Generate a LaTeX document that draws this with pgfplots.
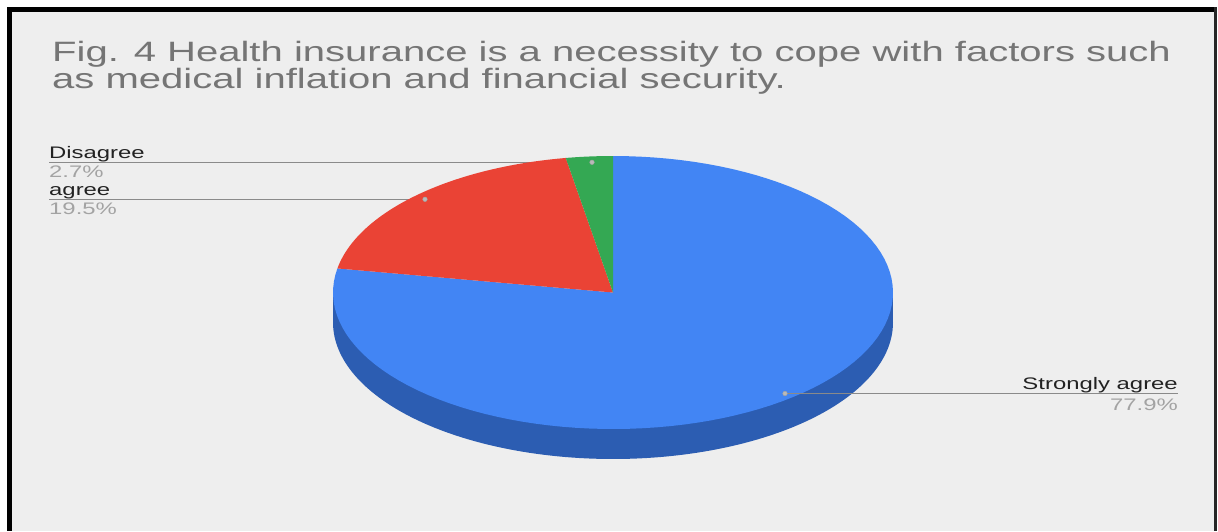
\documentclass[border=0pt]{standalone}
\usepackage{pgfplots}
\pgfplotsset{compat=1.18}
\usepackage{pgfplotstable}
\usepackage{fontspec}
\setmainfont[FakeStretch=1.43]{Liberation Sans}
\definecolor{bg}{HTML}{EEEEEE}
\definecolor{gblue}{HTML}{4285F4}
\definecolor{gbluedark}{HTML}{2C5DB2}
\definecolor{gred}{HTML}{EA4335}
\definecolor{ggreen}{HTML}{34A853}
\definecolor{titlegray}{HTML}{757575}
\definecolor{pctgray}{HTML}{A3A3A3}
\definecolor{labelink}{HTML}{222222}
\definecolor{leader}{HTML}{8A8A8A}

\pgfplotstableread{
label value
Strongly 77.9
agree 19.5
Disagree 2.7
}\piedata

\pgfplotstablegetelem{0}{value}\of\piedata \let\vA\pgfplotsretval
\pgfplotstablegetelem{1}{value}\of\piedata \let\vB\pgfplotsretval
\pgfplotstablegetelem{2}{value}\of\piedata \let\vC\pgfplotsretval
\pgfmathsetmacro\tot{\vA+\vB+\vC}
\pgfmathsetmacro\aA{90-(\vA/\tot)*360}
\pgfmathsetmacro\aB{\aA-(\vB/\tot)*360}
\pgfmathsetmacro\aC{\aB-(\vC/\tot)*360}

\def\pcx{613}\def\pcy{292.5}\def\prx{280}\def\pry{136.5}\def\pdep{30}

\newcommand\slice[3]{%
\addplot[fill=#1, draw=none, domain=0:101, samples=102, variable=\t]
 ({ifthenelse(\t<100.5, \pcx+\prx*cos(#2+(#3-#2)*\t/100), \pcx)},
  {ifthenelse(\t<100.5, \pcy-\pry*sin(#2+(#3-#2)*\t/100), \pcy)});
}

\begin{document}
\begin{tikzpicture}
\begin{axis}[width=1218pt,height=531pt,scale only axis,
  xmin=0,xmax=1218,ymin=0,ymax=531,y dir=reverse,
  hide axis, clip=false]
% background and frame
\fill[white] (axis cs:0,0) rectangle (axis cs:1218,531);
\fill[bg] (axis cs:12,12) rectangle (axis cs:1214,531);
\fill[black] (axis cs:7,6.5) rectangle (axis cs:1216.5,12);
\fill[black] (axis cs:7,6.5) rectangle (axis cs:12,531);
\fill[black!85] (axis cs:1214,6.5) rectangle (axis cs:1216.5,531);
% title
\node[anchor=base west, text=titlegray, font=\fontsize{28}{33}\selectfont, inner sep=0pt]
  at (axis cs:52,61) {Fig. 4 Health insurance is a necessity to cope with factors such};
\node[anchor=base west, text=titlegray, font=\fontsize{28}{33}\selectfont, inner sep=0pt]
  at (axis cs:52,88) {as medical inflation and financial security.};
% leader lines (left, under pie)
\addplot[leader, line width=1.3pt, no markers] coordinates {(49,162.3) (592,162.3)};
\addplot[leader, line width=1.3pt, no markers] coordinates {(49,199.3) (425,199.3)};
% side of the pie
\addplot[fill=gbluedark, draw=none, domain=180:360, samples=120]
  ({\pcx+\prx*cos(x)}, {\pcy+\pdep-\pry*sin(x)});
\addplot[fill=gbluedark, draw=none] coordinates
  {(\pcx-\prx,\pcy) (\pcx+\prx,\pcy) (\pcx+\prx,\pcy+\pdep+1) (\pcx-\prx,\pcy+\pdep+1)};
% top slices
\slice{gblue}{90}{\aA}
\slice{gred}{\aA}{\aB}
\slice{ggreen}{\aB}{\aC}
% right leader line (over pie)
\addplot[leader, line width=1.3pt, no markers] coordinates {(785,393.5) (1178,393.5)};
% dots
\addplot[only marks, mark=*, mark size=2.3pt, draw=leader!80, fill=leader!60] coordinates {(592,162.3) (425,199.3) (785,393.5)};
% labels
\node[anchor=base west, text=labelink, font=\fontsize{16.7}{20}\selectfont, inner sep=0pt] at (axis cs:49,158) {Disagree};
\node[anchor=base west, text=pctgray, font=\fontsize{16.7}{20}\selectfont, inner sep=0pt] at (axis cs:49,177) {2.7\%};
\node[anchor=base west, text=labelink, font=\fontsize{16.7}{20}\selectfont, inner sep=0pt] at (axis cs:49,195) {agree};
\node[anchor=base west, text=pctgray, font=\fontsize{16.7}{20}\selectfont, inner sep=0pt] at (axis cs:49,214) {19.5\%};
\node[anchor=base east, text=labelink, font=\fontsize{16.7}{20}\selectfont, inner sep=0pt] at (axis cs:1178,389) {Strongly agree};
\node[anchor=base east, text=pctgray, font=\fontsize{16.7}{20}\selectfont, inner sep=0pt] at (axis cs:1178,410) {77.9\%};
\end{axis}
\end{tikzpicture}
\end{document}
